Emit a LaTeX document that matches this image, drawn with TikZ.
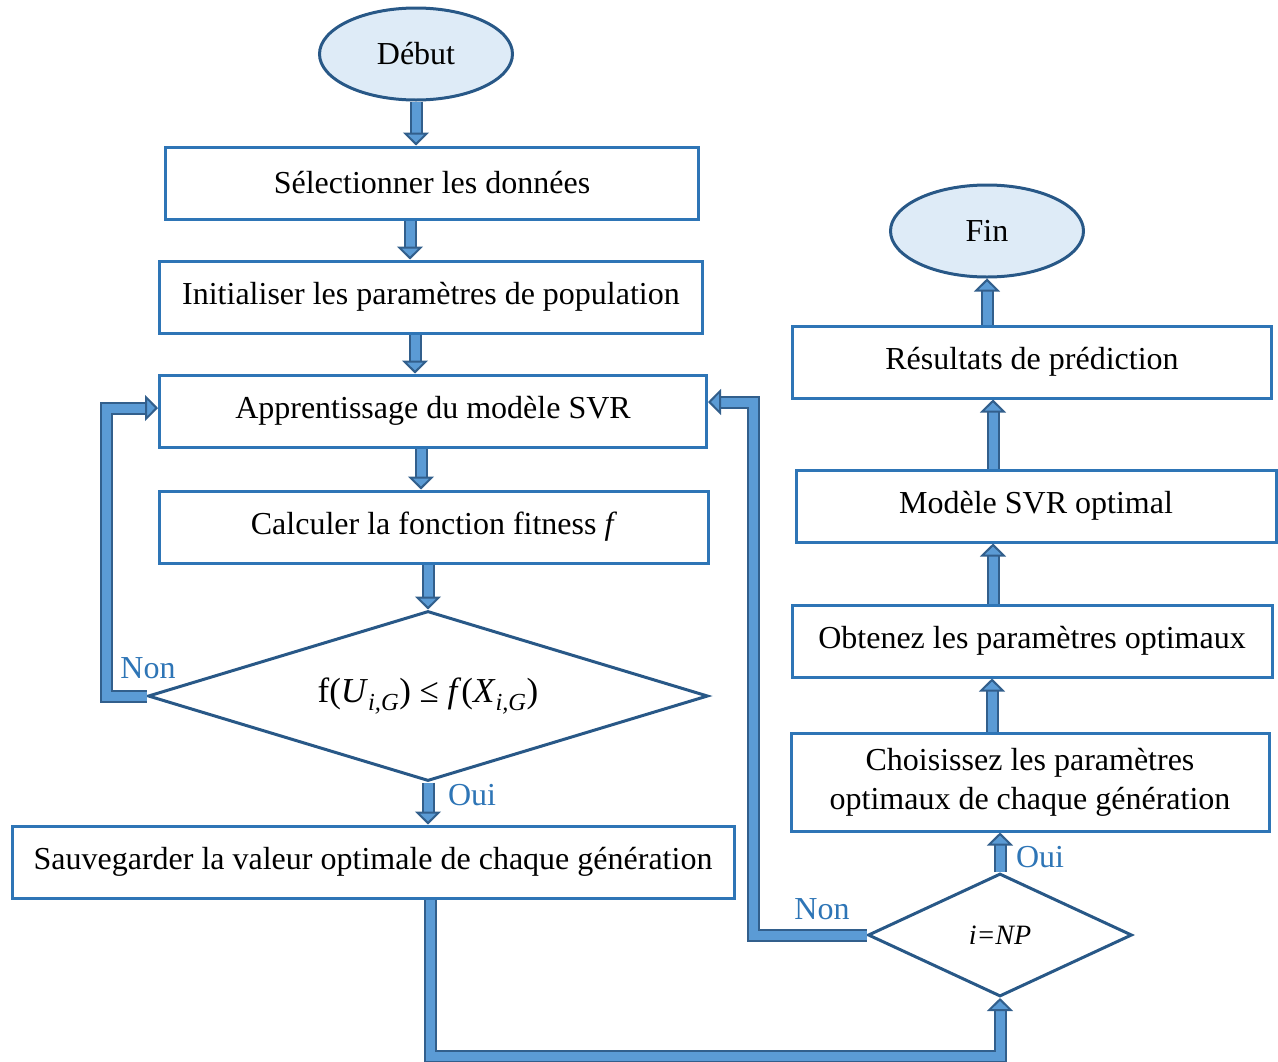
\documentclass[tikz,border=0pt]{standalone}
\usepackage{fontspec}
\setmainfont{Liberation Serif}
\usetikzlibrary{shapes.geometric,arrows.meta}
\definecolor{boxBlue}{RGB}{46,117,182}
\definecolor{edgeBlue}{RGB}{40,88,135}
\definecolor{barFill}{RGB}{91,155,213}
\definecolor{barLine}{RGB}{50,95,140}
\definecolor{capFill}{RGB}{222,235,247}

\begin{document}
\begin{tikzpicture}[x=1pt,y=-1pt,
    font=\fontsize{32}{39}\selectfont,
    box/.style={draw=boxBlue,line width=3pt,minimum height=72pt,inner sep=0pt,align=center},
    term/.style={ellipse,draw=edgeBlue,fill=capFill,line width=3pt,minimum width=193pt,minimum height=92pt},
    test/.style={diamond,draw=edgeBlue,line width=3pt,inner sep=0pt},
    flow/.style={draw=barLine,line width=2pt,double=barFill,double distance=9pt,
      -{Triangle[width=26pt,length=13pt,line width=2pt,fill=barFill]}},
    tag/.style={text=boxBlue}]
    \useasboundingbox (0,0) rectangle (1278,1061);

    % left column
    \node[term] (debut) at (416,54) {Début};
    \node[box, minimum width=533pt] (sel) at (432,183) {Sélectionner les données};
    \node[box, minimum width=543pt] (init) at (431,297) {Initialiser les paramètres de population};
    \node[box, minimum width=547pt] (learn) at (433,411) {Apprentissage du modèle SVR};
    \node[box, minimum width=549pt] (calc) at (434,527) {Calculer la fonction fitness \textit{f}};
    \node[test, aspect=3.3, minimum width=560pt, minimum height=170pt,
      font=\fontsize{35}{40}\selectfont] (cmp) at (428,696)
      {f(\textit{U}\textsubscript{\textit{i,G}}) ≤ \textit{f}(\textit{X}\textsubscript{\textit{i,G}})};
    \node[box, minimum width=722pt] (save) at (373,862) {Sauvegarder la valeur optimale de chaque génération};

    % right column
    \node[test, aspect=2.15, minimum width=264pt, minimum height=123pt, font=\fontsize{28}{32}\selectfont\itshape] (np) at (1000,935) {i=NP};
    \node[box, minimum width=478pt, minimum height=98pt] (choix) at (1030,782) {Choisissez les paramètres\\optimaux de chaque génération};
    \node[box, minimum width=480pt] (obt) at (1032,641) {Obtenez les paramètres optimaux};
    \node[box, minimum width=480pt] (modele) at (1036,506) {Modèle SVR optimal};
    \node[box, minimum width=479pt] (res) at (1032,362) {Résultats de prédiction};
    \node[term] (fin) at (987,231) {Fin};

    % arrows, left
    \draw[flow] (debut.south) -- (debut.south |- sel.north);
    \draw[flow] ([xshift=-22]sel.south) -- ([xshift=-22]sel.south |- init.north);
    \draw[flow] ([xshift=-16]init.south) -- ([xshift=-16]init.south |- learn.north);
    \draw[flow] ([xshift=-12]learn.south) -- ([xshift=-12]learn.south |- calc.north);
    \draw[flow] (calc.south -| cmp.north) -- (cmp.north);
    \draw[flow] (cmp.south) -- (cmp.south |- save.north);
    \draw[flow] (cmp.west) -| ([xshift=-52,yshift=3]learn.west) -- ([yshift=3]learn.west);
    \draw[flow] ([xshift=57]save.south) -- ++(0,157) -| (np.south);

    % arrows, right
    \draw[flow] (np.west) -| ([xshift=45,yshift=9]learn.east) -- ([yshift=9]learn.east);
    \draw[flow] (np.north) -- (np.north |- choix.south);
    \draw[flow] ([xshift=-38]choix.north) -- ([xshift=-38]choix.north |- obt.south);
    \draw[flow] ([xshift=-39]obt.north) -- ([xshift=-39]obt.north |- modele.south);
    \draw[flow] ([xshift=-43]modele.north) -- ([xshift=-43]modele.north |- res.south);
    \draw[flow] (res.north -| fin.south) -- (fin.south);

    % labels
    \node[tag] (non1) at (148,668) {Non};
    \node[tag] (oui1) at (472,795) {Oui};
    \node[tag] (non2) at (822,909) {Non};
    \node[tag] (oui2) at (1040,857) {Oui};
\end{tikzpicture}
\end{document}
